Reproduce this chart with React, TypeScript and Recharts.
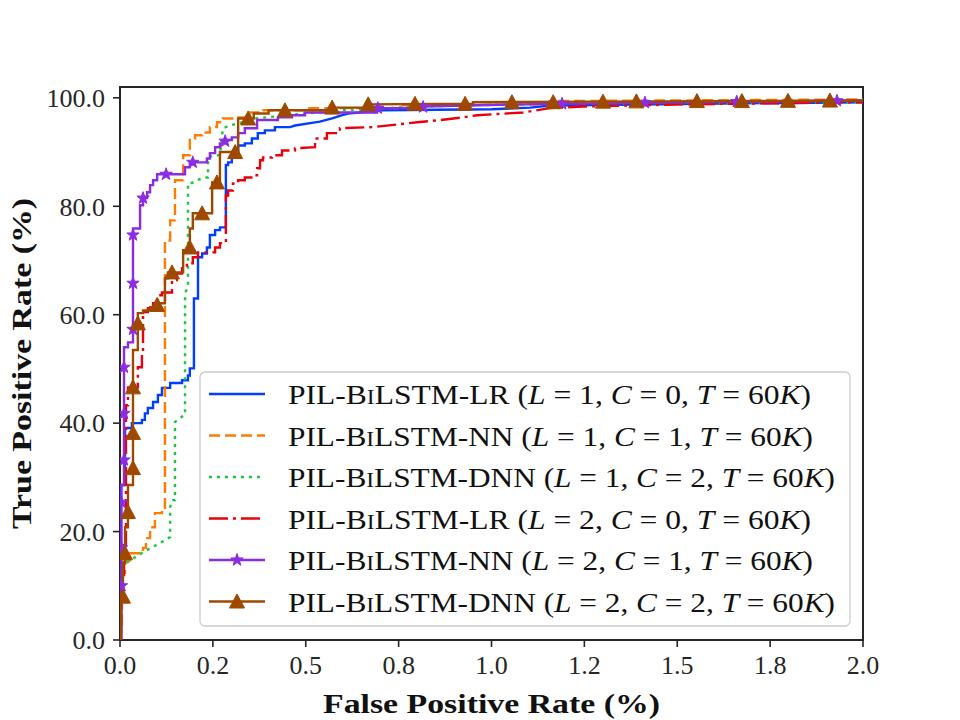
import React from 'react';
import { ComposedChart, Line, XAxis, YAxis, Legend, Label, ReferenceArea } from 'recharts';

type Pt = [number, number];

const xTicks = [0, 0.25, 0.5, 0.75, 1, 1.25, 1.5, 1.75, 2];
const xTickLabels = ['0.0', '0.2', '0.5', '0.8', '1.0', '1.2', '1.5', '1.8', '2.0'];
const yTicks = [0, 20, 40, 60, 80, 100];
const yTickLabels = ['0.0', '20.0', '40.0', '60.0', '80.0', '100.0'];

// ROC points [FPR %, TPR %]
const rocLrL1: Pt[] = [
  [0, 0], [0.001, 26], [0.003, 28.6], [0.0135, 28.6], [0.0135, 39.1], [0.032, 39.1], [0.032, 40.0],
  [0.059, 40.0], [0.059, 40.6], [0.067, 40.6], [0.067, 41.8], [0.075, 41.8], [0.075, 42.8],
  [0.089, 42.8], [0.089, 43.9], [0.102, 43.9], [0.102, 45.2], [0.113, 45.2], [0.113, 46.5],
  [0.135, 46.5], [0.135, 47.4], [0.167, 47.4], [0.167, 47.9], [0.183, 47.9], [0.183, 48.8],
  [0.188, 48.8], [0.188, 50.1], [0.199, 50.1], [0.199, 63.0], [0.21, 63.0], [0.21, 70.6],
  [0.221, 70.6], [0.221, 71.3], [0.234, 71.3], [0.234, 72.4], [0.242, 72.4], [0.242, 74.7],
  [0.256, 74.7], [0.256, 75.6], [0.269, 75.6], [0.269, 76.1], [0.285, 76.1], [0.285, 87.6],
  [0.291, 87.6], [0.291, 88.1], [0.301, 88.1], [0.301, 89.0], [0.318, 89.0], [0.318, 91.2],
  [0.336, 91.2], [0.336, 91.6], [0.355, 91.6], [0.355, 92.5], [0.371, 92.5], [0.371, 93.5],
  [0.39, 93.5], [0.39, 94.0], [0.417, 94.0], [0.417, 94.6], [0.458, 94.6], [0.471, 94.9],
  [0.538, 95.6], [0.571, 96.2], [0.598, 96.8], [0.614, 97.1], [0.708, 97.7], [1.0, 97.9],
  [1.104, 98.2], [1.157, 98.6], [1.56, 98.9], [2.0, 99.2],
];

const rocNnL1: Pt[] = [
  [0, 0], [0.001, 0], [0.001, 2.4], [0.0054, 2.4], [0.0054, 12.4], [0.0135, 12.4], [0.0135, 14.7],
  [0.027, 14.7], [0.027, 16.0], [0.062, 16.0], [0.062, 17.0], [0.07, 17.0], [0.07, 18.8],
  [0.081, 18.8], [0.081, 20.8], [0.094, 20.8], [0.094, 23.4], [0.113, 23.4], [0.113, 24.0],
  [0.121, 24.0], [0.121, 73.7], [0.135, 73.7], [0.135, 77.4], [0.148, 77.4], [0.148, 84.8],
  [0.17, 84.8], [0.17, 89.4], [0.188, 89.4], [0.188, 92.5], [0.202, 92.5], [0.202, 93.1],
  [0.221, 93.1], [0.221, 93.6], [0.242, 93.6], [0.242, 94.6], [0.261, 94.6], [0.261, 95.5],
  [0.277, 95.5], [0.277, 96.2], [0.31, 96.2], [0.31, 96.4], [0.345, 96.4], [0.345, 97.3],
  [0.382, 97.3], [0.382, 97.7], [0.498, 97.7], [0.498, 98.1], [0.754, 98.1], [0.754, 98.6],
  [1.157, 98.8], [1.157, 99.4], [2.0, 99.7],
];

const rocDnnL1: Pt[] = [
  [0, 0], [0.0027, 0], [0.0027, 1.8], [0.0081, 13.5], [0.0135, 14.2], [0.0215, 14.4],
  [0.062, 16.2], [0.113, 18.1], [0.135, 19.0], [0.135, 24.5], [0.14, 25.8], [0.148, 25.8],
  [0.148, 40.2], [0.167, 41.2], [0.175, 41.5], [0.175, 64.0], [0.183, 65.1], [0.183, 84.2],
  [0.199, 84.4], [0.207, 84.8], [0.229, 85.3], [0.237, 85.3], [0.237, 89.0], [0.256, 89.4],
  [0.269, 89.4], [0.277, 94.4], [0.296, 94.9], [0.331, 95.5], [0.363, 96.2], [0.498, 97.1],
  [0.6, 97.7], [0.8, 98.4], [1.2, 99.0], [2.0, 99.2],
];

const rocLrL2: Pt[] = [
  [0, 0], [0.001, 0], [0.001, 7.4], [0.005, 7.4], [0.005, 12.0], [0.0108, 12.0], [0.0108, 17.5],
  [0.016, 17.5], [0.016, 43.3], [0.0215, 43.3], [0.0215, 46.6], [0.048, 46.6], [0.048, 50.3],
  [0.059, 50.3], [0.059, 53.1], [0.062, 53.1], [0.062, 60.5], [0.075, 60.5], [0.075, 61.2],
  [0.089, 61.2], [0.089, 62.7], [0.102, 62.7], [0.102, 63.6], [0.113, 63.6], [0.113, 64.1],
  [0.14, 64.1], [0.14, 66.4], [0.153, 66.4], [0.153, 67.6], [0.167, 67.6], [0.167, 68.6],
  [0.18, 68.6], [0.18, 69.5], [0.196, 69.5], [0.196, 70.6], [0.21, 70.6], [0.21, 71.5],
  [0.256, 71.5], [0.256, 72.4], [0.269, 72.4], [0.269, 73.2], [0.285, 73.2], [0.285, 82.0],
  [0.291, 82.0], [0.291, 82.9], [0.304, 82.9], [0.304, 84.2], [0.318, 84.2], [0.318, 84.8],
  [0.336, 84.8], [0.336, 85.3], [0.358, 85.3], [0.358, 85.7], [0.369, 85.7], [0.369, 87.0],
  [0.377, 87.0], [0.377, 88.5], [0.385, 88.5], [0.385, 89.0], [0.409, 89.0], [0.409, 89.4],
  [0.436, 89.4], [0.436, 90.3], [0.471, 90.3], [0.471, 90.7], [0.525, 90.9], [0.525, 92.5],
  [0.557, 92.5], [0.557, 93.5], [0.592, 93.5], [0.592, 94.4], [0.681, 94.6], [0.8, 95.5],
  [0.861, 95.9], [0.923, 96.4], [0.961, 96.8], [1.085, 97.3], [1.157, 98.1], [1.246, 98.4],
  [1.515, 98.8], [2.0, 99.2],
];

const rocNnL2: Pt[] = [
  [0, 0], [0.004, 0], [0.004, 28.6], [0.0108, 28.6], [0.0108, 54.0], [0.0215, 54.0],
  [0.0215, 54.9], [0.035, 54.9], [0.035, 75.9], [0.054, 75.9], [0.054, 80.2], [0.062, 80.2],
  [0.062, 81.5], [0.073, 81.5], [0.073, 82.6], [0.081, 82.6], [0.081, 83.9], [0.089, 83.9],
  [0.089, 84.8], [0.1, 84.8], [0.1, 85.9], [0.175, 85.9], [0.175, 87.2], [0.188, 87.2],
  [0.188, 88.1], [0.234, 88.1], [0.234, 88.8], [0.242, 88.8], [0.242, 89.8], [0.256, 89.8],
  [0.256, 90.9], [0.269, 90.9], [0.269, 91.6], [0.283, 91.6], [0.283, 92.2], [0.301, 92.2],
  [0.301, 92.7], [0.318, 92.7], [0.318, 93.5], [0.336, 93.5], [0.336, 94.4], [0.369, 94.4],
  [0.369, 95.9], [0.425, 95.9], [0.425, 96.4], [0.463, 96.4], [0.463, 96.8], [0.498, 96.8],
  [0.498, 97.3], [0.692, 97.3], [0.692, 98.1], [0.816, 98.1], [0.816, 98.4], [1.077, 98.8],
  [1.561, 99.2], [2.0, 99.5],
];

const rocDnnL2: Pt[] = [
  [0, 0], [0.003, 0], [0.003, 7.4], [0.008, 7.4], [0.008, 14.2], [0.0135, 14.2], [0.0135, 20.8],
  [0.0215, 20.8], [0.0215, 28.6], [0.035, 28.6], [0.035, 53.5], [0.048, 53.5], [0.048, 60.3],
  [0.062, 60.3], [0.062, 60.8], [0.081, 60.8], [0.081, 61.4], [0.1, 61.4], [0.1, 62.1],
  [0.121, 62.1], [0.121, 66.7], [0.129, 66.7], [0.129, 67.8], [0.17, 67.8], [0.17, 71.9],
  [0.188, 71.9], [0.188, 75.9], [0.196, 75.9], [0.196, 78.7], [0.248, 78.7], [0.248, 84.4],
  [0.269, 84.4], [0.269, 90.0], [0.318, 90.0], [0.318, 96.2], [0.36, 96.2], [0.36, 97.1],
  [0.4, 97.1], [0.4, 97.7], [0.565, 97.7], [0.565, 98.2], [0.66, 98.2], [0.66, 98.8],
  [0.95, 98.9], [0.95, 99.2], [1.3, 99.3], [2.0, 99.5],
];

const markersNnL2: Pt[] = [
  [0.004, 10.0], [0.004, 17.0], [0.004, 25.4], [0.0108, 33.2], [0.0108, 41.8], [0.0108, 50.3],
  [0.035, 57.3], [0.035, 65.8], [0.035, 74.7], [0.062, 81.5], [0.124, 85.9], [0.196, 88.1],
  [0.283, 92.0], [0.694, 98.1], [0.816, 98.3], [1.19, 98.9], [1.413, 99.1], [1.66, 99.3],
  [1.93, 99.45],
];

const markersDnnL2: Pt[] = [
  [0.008, 8.0], [0.0135, 16.0], [0.0215, 23.6], [0.035, 31.7], [0.035, 38.2], [0.035, 46.6],
  [0.048, 58.4], [0.1, 61.8], [0.14, 67.8], [0.188, 72.4], [0.221, 78.7], [0.261, 84.4],
  [0.31, 90.0], [0.345, 96.2], [0.444, 97.7], [0.571, 98.2], [0.668, 98.8], [0.794, 98.9],
  [0.929, 98.9], [1.055, 99.2], [1.166, 99.2], [1.3, 99.3], [1.39, 99.35], [1.553, 99.4],
  [1.674, 99.4], [1.798, 99.45], [1.911, 99.5],
];

const modelHeads = ['LR', 'NN', 'DNN', 'LR', 'NN', 'DNN'];
const layerValues = [1, 1, 1, 2, 2, 2];
const clsValues = [0, 1, 2, 0, 1, 2];
const trainSizes = ['60', '60', '60', '60', '60', '60'];

const colors = ['#023eff', '#ff7c00', '#1ac938', '#e8000b', '#8b2be2', '#9f4800'];
const dashes: (string | undefined)[] = [undefined, '11 5', '3 5', '19 5 3 5', undefined, undefined];
const markerKinds = ['none', 'none', 'none', 'none', 'star', 'triangle'];
const legendTextWidths = [523, 525, 547, 523, 525, 547];

const seriesData = [rocLrL1, rocNnL1, rocDnnL1, rocLrL2, rocNnL2, rocDnnL2];

const FONT = "'Liberation Serif', 'DejaVu Serif', serif";
const INK = '#262626';
const LW = 2.4;

const toObj = (arr: Pt[]) => arr.map(([x, y]) => ({ x, y }));

function starPath(cx: number, cy: number, R: number, r: number) {
  let d = '';
  for (let k = 0; k < 10; k++) {
    const ang = -Math.PI / 2 + (k * Math.PI) / 5;
    const rad = k % 2 === 0 ? R : r;
    d += (k === 0 ? 'M' : 'L') + (cx + rad * Math.cos(ang)).toFixed(2) + ',' + (cy + rad * Math.sin(ang)).toFixed(2);
  }
  return d + 'Z';
}

const Star = ({ cx, cy, color }: { cx: number; cy: number; color: string }) => (
  <path d={starPath(cx, cy, 6.5, 2.6)} fill={color} stroke={color} strokeWidth={1} />
);

const Tri = ({ cx, cy, color }: { cx: number; cy: number; color: string }) => (
  <path d={`M${cx},${cy - 7.5}L${cx - 7.5},${cy + 6.5}L${cx + 7.5},${cy + 6.5}Z`} fill={color} stroke={color} strokeWidth={1} />
);

const starDot = (props: any) => {
  const { cx, cy, index } = props;
  if (cx == null || cy == null) return <g key={index} />;
  return <Star key={index} cx={cx} cy={cy} color={colors[4]} />;
};

const triDot = (props: any) => {
  const { cx, cy, index } = props;
  if (cx == null || cy == null) return <g key={index} />;
  return <Tri key={index} cx={cx} cy={cy} color={colors[5]} />;
};

const LegendBox = () => (
  <svg width={654} height={258} style={{ display: 'block', overflow: 'visible' }}>
    <rect x={1} y={1} width={650} height={254} rx={5} ry={5} fill="#ffffff" fillOpacity={0.8} stroke="#cccccc" strokeWidth={1.3} />
    {modelHeads.map((head, i) => {
      const cy = 23 + i * 41.5;
      const c = colors[i];
      return (
        <g key={i}>
          <line x1={10} x2={66} y1={cy} y2={cy} stroke={c} strokeWidth={LW} strokeDasharray={dashes[i]} />
          {markerKinds[i] === 'star' && <Star cx={38} cy={cy} color={c} />}
          {markerKinds[i] === 'triangle' && <Tri cx={38} cy={cy} color={c} />}
          <text
            x={89}
            y={cy + 10}
            fontFamily={FONT}
            fontSize={28}
            fill="#111"
            textLength={legendTextWidths[i]}
            lengthAdjust="spacingAndGlyphs"
            style={{ whiteSpace: 'pre' }}
          >
            <tspan>PIL-B</tspan>
            <tspan fontSize={21}>I</tspan>
            <tspan>{`LSTM-${head} (`}</tspan>
            <tspan fontStyle="italic">L</tspan>
            <tspan>{` = ${layerValues[i]}, `}</tspan>
            <tspan fontStyle="italic">C</tspan>
            <tspan>{` = ${clsValues[i]}, `}</tspan>
            <tspan fontStyle="italic">T</tspan>
            <tspan>{` = ${trainSizes[i]}`}</tspan>
            <tspan fontStyle="italic">K</tspan>
            <tspan>)</tspan>
          </text>
        </g>
      );
    })}
  </svg>
);

const XLabelContent = (props: any) => {
  const vb = props.viewBox || { x: 120, y: 640, width: 743, height: 60 };
  const cx = vb.x + vb.width / 2;
  return (
    <text x={cx} y={vb.y + 73} textAnchor="middle" fontFamily={FONT} fontWeight="bold" fontSize={28} fill="#111" textLength={337} lengthAdjust="spacingAndGlyphs">
      False Positive Rate (%)
    </text>
  );
};

const YLabelContent = (props: any) => {
  const vb = props.viewBox || { x: 20, y: 87, width: 100, height: 553 };
  const cx = vb.x + 11;
  const cy = vb.y + vb.height / 2;
  return (
    <text x={cx} y={cy} transform={`rotate(-90, ${cx}, ${cy})`} textAnchor="middle" fontFamily={FONT} fontWeight="bold" fontSize={28} fill="#111" textLength={331} lengthAdjust="spacingAndGlyphs">
      True Positive Rate (%)
    </text>
  );
};

export default function App() {
  return (
    <div style={{ position: 'absolute', left: 0, top: 0, width: 960, height: 720, background: '#fff' }}>
      <ComposedChart width={960} height={720} margin={{ top: 87, right: 97, bottom: 20, left: 20 }}>
        <XAxis
          type="number"
          dataKey="x"
          domain={[0, 2]}
          ticks={xTicks}
          tickFormatter={(v: number, i: number) => xTickLabels[i] ?? String(v)}
          allowDataOverflow
          axisLine={false}
          tickLine={{ stroke: INK, strokeWidth: 1.6 }}
          tickSize={7}
          tickMargin={9}
          height={60}
          tick={{ fill: INK, fontSize: 26, fontFamily: FONT }}
          interval={0}
        >
          <Label content={XLabelContent} />
        </XAxis>
        <YAxis
          type="number"
          domain={[0, 102]}
          ticks={yTicks}
          tickFormatter={(v: number, i: number) => yTickLabels[i] ?? String(v)}
          allowDataOverflow
          axisLine={false}
          tickLine={{ stroke: INK, strokeWidth: 1.6 }}
          tickSize={7}
          tickMargin={8}
          width={100}
          tick={{ fill: INK, fontSize: 26, fontFamily: FONT }}
          interval={0}
        >
          <Label content={YLabelContent} />
        </YAxis>
        {seriesData.map((d, i) => (
          <Line
            key={`s${i}`}
            data={toObj(d)}
            dataKey="y"
            type="linear"
            stroke={colors[i]}
            strokeWidth={LW}
            strokeDasharray={dashes[i]}
            dot={false}
            activeDot={false}
            isAnimationActive={false}
            legendType="none"
          />
        ))}
        <Line
          data={toObj(markersNnL2)}
          dataKey="y"
          stroke="none"
          dot={starDot}
          activeDot={false}
          isAnimationActive={false}
          legendType="none"
        />
        <Line
          data={toObj(markersDnnL2)}
          dataKey="y"
          stroke="none"
          dot={triDot}
          activeDot={false}
          isAnimationActive={false}
          legendType="none"
        />
        <ReferenceArea x1={0} x2={2} y1={0} y2={102} fill="none" stroke={INK} strokeWidth={2} ifOverflow="visible" />
        <Legend
          layout="vertical"
          align="center"
          verticalAlign="middle"
          content={() => <LegendBox />}
          wrapperStyle={{ left: 199, top: 371, width: 654, height: 258 }}
        />
      </ComposedChart>
    </div>
  );
}
